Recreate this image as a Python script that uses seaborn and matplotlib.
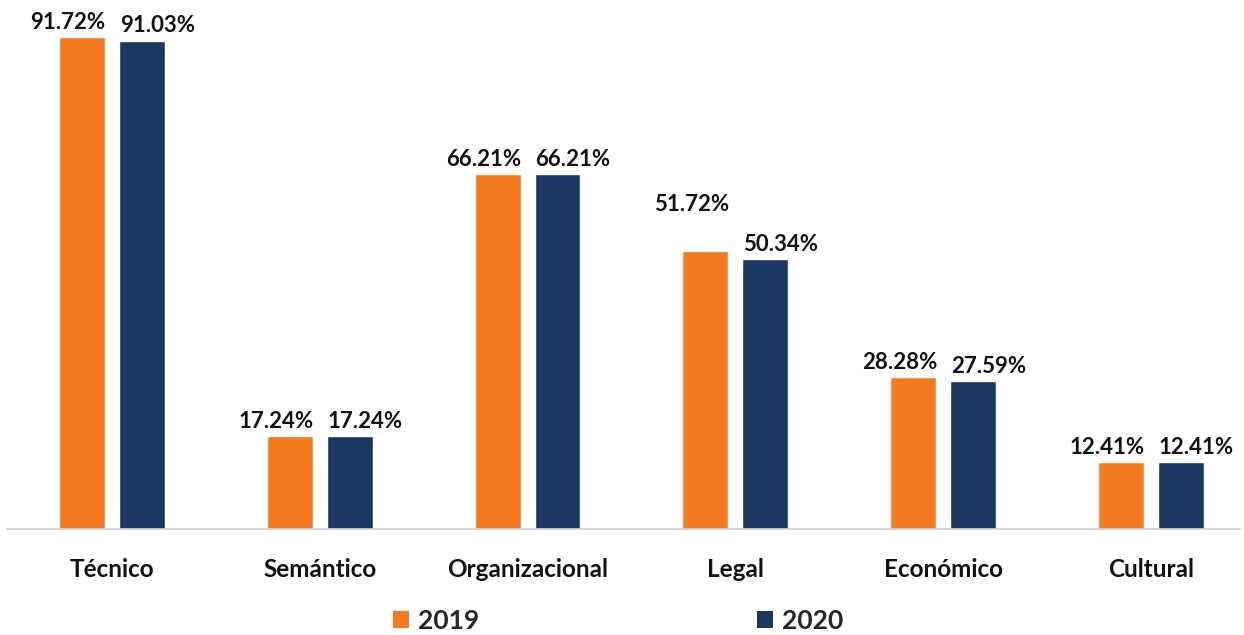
import matplotlib
matplotlib.use("Agg")
import matplotlib.pyplot as plt
import seaborn as sns
import pandas as pd
from matplotlib.patches import Patch

categories = ["Técnico", "Semántico", "Organizacional", "Legal", "Económico", "Cultural"]
years = ["2019", "2020"]
values_2019 = [91.72, 17.24, 66.21, 51.72, 28.28, 12.41]
values_2020 = [91.03, 17.24, 66.21, 50.34, 27.59, 12.41]

colors = {"2019": "#F47A20", "2020": "#1B3862"}

df = pd.DataFrame({
    "categoria": categories * 2,
    "año": [years[0]] * len(categories) + [years[1]] * len(categories),
    "valor": values_2019 + values_2020,
})

sns.set_theme(style="white")
plt.rcParams["font.family"] = ["Lato", "DejaVu Sans"]

fig = plt.figure(figsize=(12.44, 6.35), dpi=100)
ax = fig.add_axes([0.0056, 0.167, 0.9915, 0.833])

sns.barplot(data=df, x="categoria", y="valor", hue="año", order=categories,
            hue_order=years, palette=colors, width=0.577, gap=0.235,
            saturation=1, legend=False, ax=ax)

ax.set_ylim(0, 98.6)
ax.set_xlim(-0.505, 5.43)
ax.set_xlabel("")
ax.set_ylabel("")
ax.set_yticks([])
for s in ["top", "left", "right"]:
    ax.spines[s].set_visible(False)
ax.spines["bottom"].set_color("#D0D0D0")
ax.spines["bottom"].set_linewidth(1.2)
ax.tick_params(axis="x", length=0, pad=21)
for lbl in ax.get_xticklabels():
    lbl.set_fontsize(17.5)
    lbl.set_fontweight("bold")
    lbl.set_color("#111111")

# value labels
for ci, cont in enumerate(ax.containers):
    dx = -10 if ci == 0 else 11
    for j, bar in enumerate(cont):
        h = bar.get_height()
        extra = 0
        if ci == 0 and categories[j] == "Legal":
            extra = 23
        ax.annotate(f"{h:.2f}%", (bar.get_x() + bar.get_width() / 2, h),
                    xytext=(dx, 3 + extra), textcoords="offset points",
                    ha="center", va="bottom", fontsize=16, fontweight="bold",
                    color="#111111", annotation_clip=False)

handles = [Patch(facecolor=colors[y], edgecolor="none") for y in years]
fig.legend(handles, years, loc="center", bbox_to_anchor=(0.497, 0.022), ncol=2,
           frameon=False, prop={"weight": "bold", "size": 19},
           handlelength=0.6, handleheight=0.6, handletextpad=0.35,
           columnspacing=10.5)

fig.savefig("out.png", dpi=100)
